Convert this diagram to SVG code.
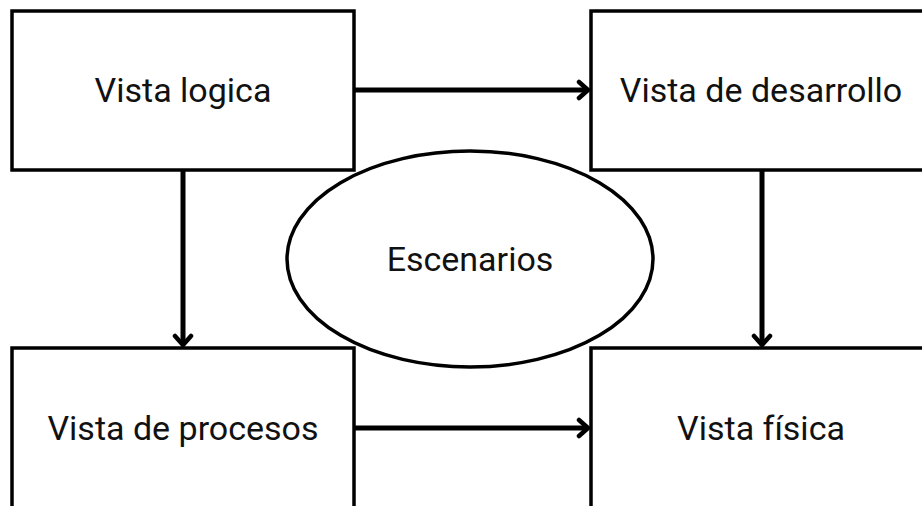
<svg xmlns="http://www.w3.org/2000/svg" width="922" height="506" viewBox="0 0 922 506">
<style>
.box{fill:#fff;stroke:#000;stroke-width:3.5}
.lbl{font-family:Roboto,"Liberation Sans",sans-serif;font-size:34px;fill:#111;text-anchor:middle;dominant-baseline:central}
.conn{stroke:#000;stroke-width:5;fill:none}
</style>
<defs>
<marker id="arr" viewBox="0 0 14 22" refX="12" refY="11" markerWidth="14" markerHeight="22" markerUnits="userSpaceOnUse" orient="auto">
<polyline points="3,3 12,11 3,19" fill="none" stroke="#000" stroke-width="4.5" stroke-linecap="round" stroke-linejoin="round"/>
</marker>
</defs>
<rect width="922" height="506" fill="#fff"/>
<g id="connectors">
<line class="conn" x1="355" y1="90" x2="588" y2="90" marker-end="url(#arr)"/>
<line class="conn" x1="355" y1="428" x2="588" y2="428" marker-end="url(#arr)"/>
<line class="conn" x1="183" y1="171" x2="183" y2="345" marker-end="url(#arr)"/>
<line class="conn" x1="762" y1="171" x2="762" y2="345" marker-end="url(#arr)"/>
</g>
<g id="logica">
<rect class="box" x="12" y="11" width="342" height="159"/>
<text class="lbl" x="183" y="90">Vista logica</text>
</g>
<g id="desarrollo">
<rect class="box" x="591" y="11" width="342" height="159"/>
<text class="lbl" x="761" y="90">Vista de desarrollo</text>
</g>
<g id="procesos">
<rect class="box" x="12" y="348" width="342" height="170"/>
<text class="lbl" x="183" y="428">Vista de procesos</text>
</g>
<g id="fisica">
<rect class="box" x="591" y="348" width="342" height="170"/>
<text class="lbl" x="761" y="428">Vista física</text>
</g>
<g id="escenarios">
<ellipse class="box" cx="470" cy="259" rx="183" ry="108"/>
<text class="lbl" x="470" y="259">Escenarios</text>
</g>
</svg>
